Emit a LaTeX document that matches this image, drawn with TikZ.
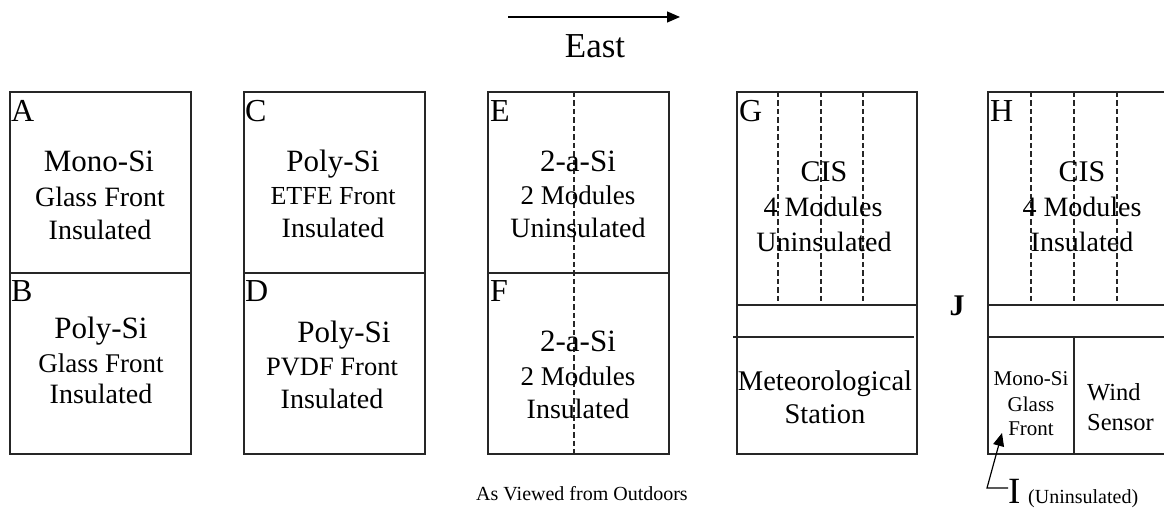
\documentclass[tikz,border=0pt]{standalone}
\usepackage{fontspec}
\setmainfont{Liberation Serif}
\usetikzlibrary{arrows.meta}
\begin{document}
\begin{tikzpicture}[x=1pt,y=-1pt,
  frame/.style={draw=black!85,line width=1.3pt},
  modline/.style={draw=black!85,line width=1.2pt,dash pattern=on 5.5pt off 3pt},
  txt/.style={anchor=base,inner sep=0pt,align=center},
  tag/.style={anchor=base west,inner sep=0pt,font=\fontsize{32}{32}\selectfont},
  fs/.style={font=\fontsize{#1}{#1}\selectfont},
  pointer/.style={draw=black,line width=1.2pt,-{Triangle[length=13pt,width=11pt]}}]
\useasboundingbox (0,0) rectangle (1164,510);
\clip (0,0) rectangle (1164,510);

% direction arrow
\coordinate (eastA) at (508,17);
\coordinate (eastB) at (680,17);
\draw[pointer] (eastA) -- (eastB);
\node[txt,fs=35] (east) at (595,58) {East};

% panel frames
\draw[frame] (10,92) rectangle (191,454) (10,273) -- (191,273);
\draw[frame] (244,92) rectangle (425,454) (244,273) -- (425,273);
\draw[frame] (488,92) rectangle (669,454) (488,273) -- (669,273);
\draw[frame] (737,92) rectangle (917,454) (737,305) -- (917,305) (733,337) -- (914,337);
\draw[frame] (988,92) rectangle (1172,454) (988,305) -- (1172,305) (988,337) -- (1172,337)
  (1074,337) -- (1074,454);

% module boundaries
\draw[modline] (574,92) -- (574,454);
\foreach \x in {778,821,863} \draw[modline] (\x,92) -- (\x,305);
\foreach \x in {1031,1074,1117} \draw[modline] (\x,92) -- (\x,305);

% position letters
\node[tag] (lA) at (11,122) {A};
\node[tag] (lB) at (11,302) {B};
\node[tag] (lC) at (245,122) {C};
\node[tag] (lD) at (245,302) {D};
\node[tag] (lE) at (490,122) {E};
\node[tag] (lF) at (490,302) {F};
\node[tag] (lG) at (739,122) {G};
\node[tag] (lH) at (990,122) {H};
\node[txt,font=\fontsize{30}{30}\selectfont\bfseries] (lJ) at (957,316) {J};

% A
\node[txt,fs=31] (a1) at (99,172) {Mono-Si};
\node[txt,fs=28] (a2) at (100,207) {Glass Front};
\node[txt,fs=28] (a3) at (100,240) {Insulated};
% B
\node[txt,fs=31] (b1) at (101,338) {Poly-Si};
\node[txt,fs=27] (b2) at (101,372) {Glass Front};
\node[txt,fs=28] (b3) at (101,403) {Insulated};
% C
\node[txt,fs=31] (c1) at (333,172) {Poly-Si};
\node[txt,fs=26] (c2) at (333,205) {ETFE Front};
\node[txt,fs=28] (c3) at (333,238) {Insulated};
% D
\node[txt,fs=31] (d1) at (344,342) {Poly-Si};
\node[txt,fs=26.5] (d2) at (332,375) {PVDF Front};
\node[txt,fs=28] (d3) at (332,408) {Insulated};
% E
\node[txt,fs=31] (e1) at (578,172) {2-a-Si};
\node[txt,fs=27] (e2) at (578,205) {2 Modules};
\node[txt,fs=28] (e3) at (578,238) {Uninsulated};
% F
\node[txt,fs=31] (f1) at (578,352) {2-a-Si};
\node[txt,fs=27] (f2) at (578,385) {2 Modules};
\node[txt,fs=28] (f3) at (578,418) {Insulated};
% G
\node[txt,fs=30] (g1) at (824,182) {CIS};
\node[txt,fs=28] (g2) at (823,217) {4 Modules};
\node[txt,fs=28] (g3) at (824,252) {Uninsulated};
\node[txt,fs=28.5] (met) at (825,390) {Meteorological};
\node[txt,fs=28.5] (sta) at (825,423) {Station};
% H
\node[txt,fs=30] (h1) at (1082,182) {CIS};
\node[txt,fs=28] (h2) at (1082,217) {4 Modules};
\node[txt,fs=28] (h3) at (1082,252) {Insulated};
\node[txt,fs=21] (i1) at (1031,385) {Mono-Si};
\node[txt,fs=21] (i2) at (1031,411) {Glass};
\node[txt,fs=21] (i3) at (1031,435) {Front};
\node[anchor=base west,inner sep=0pt,fs=24.5] (w1) at (1087,400) {Wind};
\node[anchor=base west,inner sep=0pt,fs=24.5] (w2) at (1087,430) {Sensor};

% I label with pointer
\node[anchor=base west,inner sep=0pt,fs=37] (lI) at (1008,503) {I};
\node[anchor=base west,inner sep=0pt,fs=20] (unins) at (1028,503) {(Uninsulated)};
\coordinate (bend) at (987,488);
\coordinate (tip) at (1002,433);
\draw[pointer] (lI.west |- bend) -- (bend) -- (tip);

% caption
\node[txt,fs=20] (cap) at (582,500) {As Viewed from Outdoors};
\end{tikzpicture}
\end{document}
